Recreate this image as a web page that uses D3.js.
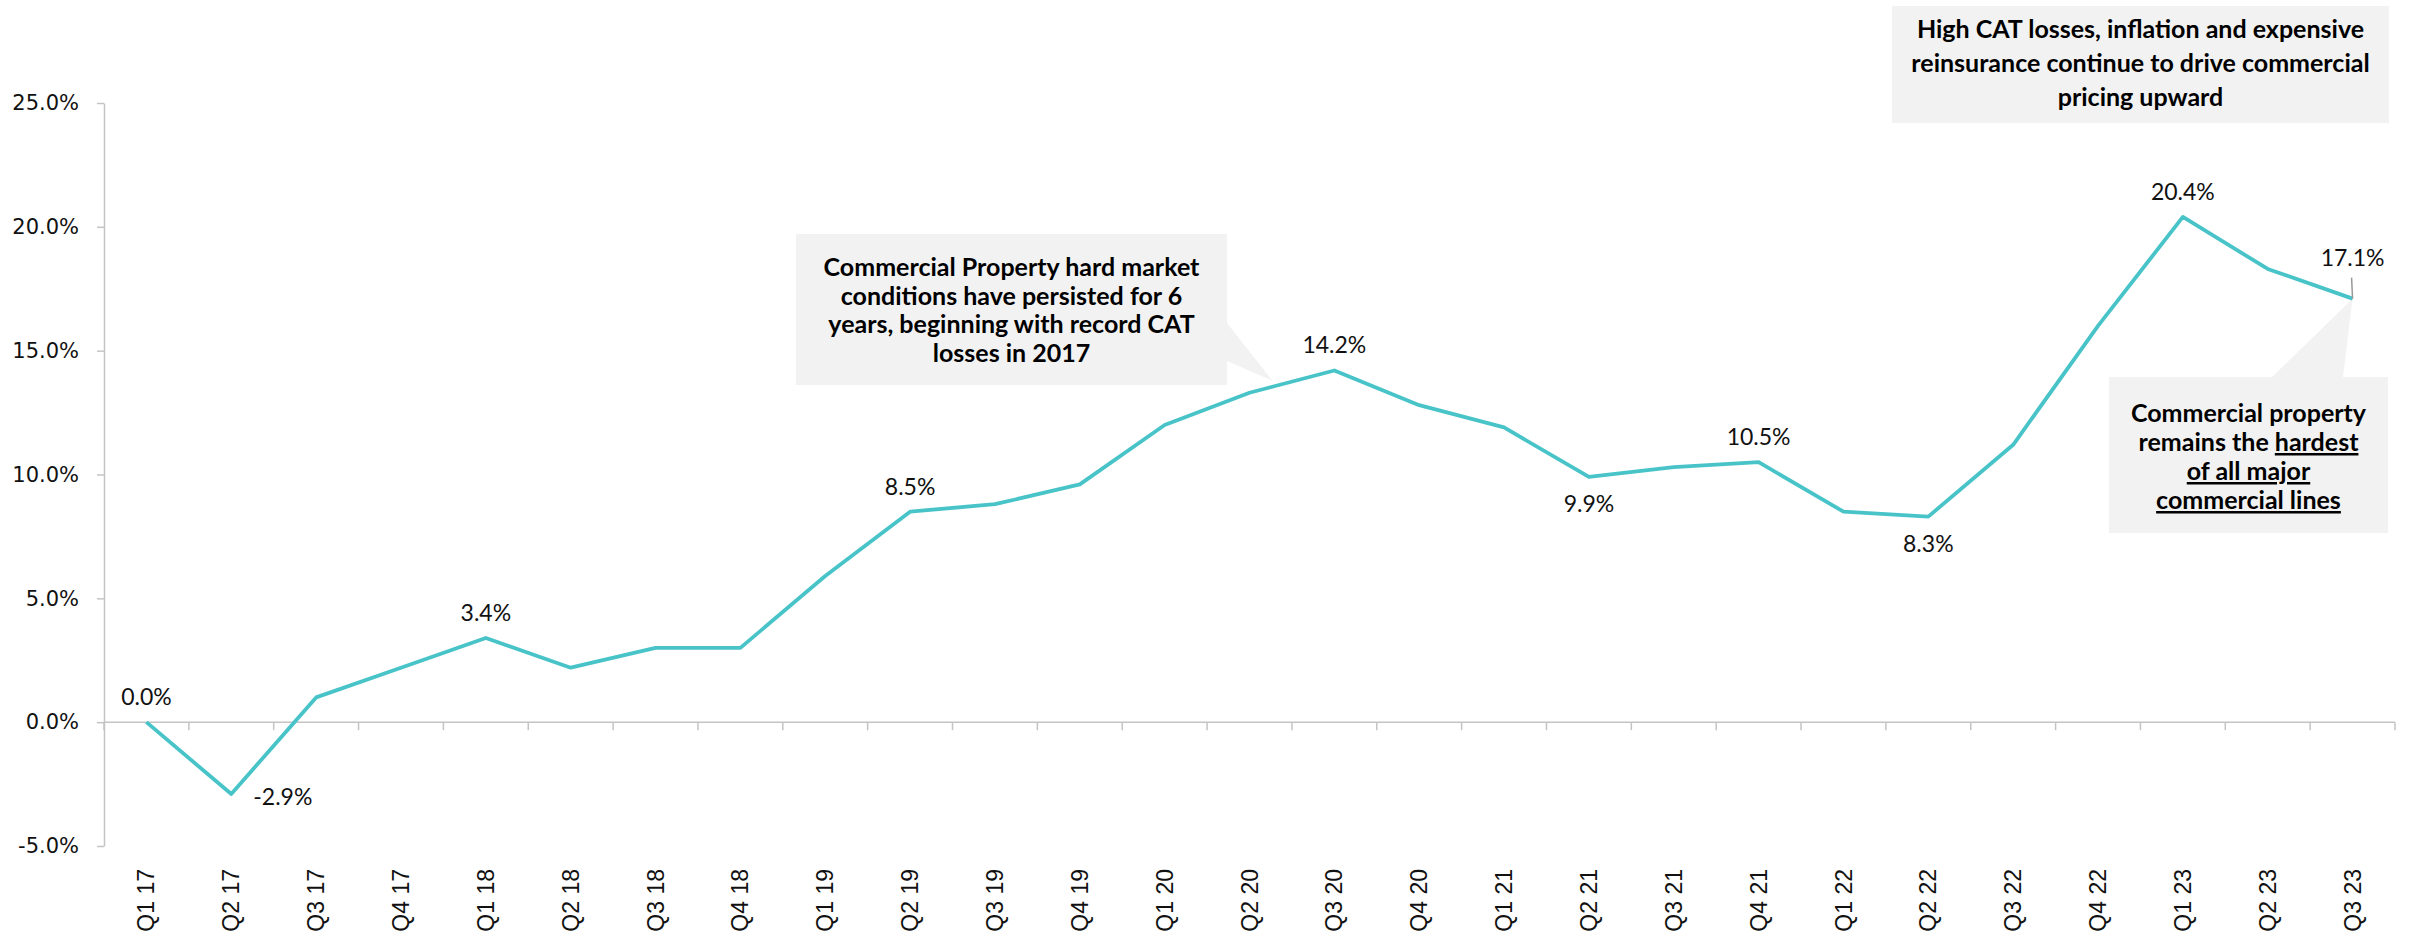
<!DOCTYPE html>
<html>
<head>
<meta charset="utf-8">
<script src="https://cdn.jsdelivr.net/npm/d3@7"></script>
<style>
  html, body { margin: 0; padding: 0; background: #ffffff; }
  svg { display: block; }
</style>
</head>
<body>
<svg id="chart" width="2417" height="936"></svg>
<script>
// Quarterly commercial property rate change, Q1 2017 – Q3 2023 (%)
const quarters = [
  "Q1 17", "Q2 17", "Q3 17", "Q4 17",
  "Q1 18", "Q2 18", "Q3 18", "Q4 18",
  "Q1 19", "Q2 19", "Q3 19", "Q4 19",
  "Q1 20", "Q2 20", "Q3 20", "Q4 20",
  "Q1 21", "Q2 21", "Q3 21", "Q4 21",
  "Q1 22", "Q2 22", "Q3 22", "Q4 22",
  "Q1 23", "Q2 23", "Q3 23"
];
const rateChange = [
  0.0, -2.9, 1.0, 2.2,
  3.4, 2.2, 3.0, 3.0,
  5.9, 8.5, 8.8, 9.6,
  12.0, 13.3, 14.2, 12.8,
  11.9, 9.9, 10.3, 10.5,
  8.5, 8.3, 11.2, 16.0,
  20.4, 18.3, 17.1
];
const yTicks = [-5, 0, 5, 10, 15, 20, 25];

// Quarters whose value is printed next to the line
const labelledQuarters = ["Q1 17", "Q2 17", "Q1 18", "Q2 19", "Q3 20", "Q2 21", "Q4 21", "Q2 22", "Q1 23", "Q3 23"];

// Callout texts
const noteHardMarket = [
  "Commercial Property hard market",
  "conditions have persisted for 6",
  "years, beginning with record CAT",
  "losses in 2017"
];
const noteOutlook = [
  "High CAT losses, inflation and expensive",
  "reinsurance continue to drive commercial",
  "pricing upward"
];
const noteHardest = [
  [{ t: "Commercial property" }],
  [{ t: "remains the " }, { t: "hardest", u: true }],
  [{ t: "of all major", u: true }],
  [{ t: "commercial lines", u: true }]
];

const svg = d3.select("#chart");
const plot = { left: 104, right: 2395, top: 103, bottom: 846 };
const lineColor = "#48c4c9";
const axisColor = "#c4c4c4";
const labelFont = "Lato, 'Noto Sans', sans-serif";

const x = d3.scaleBand().domain(quarters).range([plot.left, plot.right]).padding(0);
const y = d3.scaleLinear().domain([-5, 25]).range([plot.bottom, plot.top]);
const bw = x.bandwidth();
const cx = q => x(q) + bw / 2;
const valueOf = q => rateChange[quarters.indexOf(q)];

// ---- Callout boxes (drawn first so the line sits on top) ----
const calloutFill = "#f2f2f2";
function calloutText(g, lines, centerX, firstY, step, size) {
  const t = g.append("text")
    .attr("text-anchor", "middle")
    .attr("font-family", labelFont)
    .attr("font-weight", 700)
    .attr("font-size", size)
    .attr("fill", "#000");
  lines.forEach((ln, i) => {
    const row = t.append("tspan").attr("x", centerX).attr("y", firstY + i * step);
    (Array.isArray(ln) ? ln : [{ t: ln }]).forEach(part => {
      const s = row.append("tspan").text(part.t);
      if (part.u) s.attr("text-decoration", "underline");
    });
  });
}

// Hard-market callout pointing at the Q2 20 – Q3 20 segment
{
  const g = svg.append("g");
  const bx = 796, by = 234, bwid = 431, bh = 151;
  const x0 = cx("Q2 20"), x1 = cx("Q3 20");
  const y0 = y(valueOf("Q2 20")), y1 = y(valueOf("Q3 20"));
  const t = 0.27;
  const tip = [x0 + (x1 - x0) * t, y0 + (y1 - y0) * t - 6];
  g.append("path")
    .attr("d", `M${bx},${by}H${bx + bwid}V${by + 89}L${tip[0]},${tip[1]}L${bx + bwid},${by + 127}V${by + bh}H${bx}Z`)
    .attr("fill", calloutFill);
  calloutText(g, noteHardMarket, bx + bwid / 2, 276, 28.5, 25);
}

// Outlook box at top right
{
  const g = svg.append("g");
  const bx = 1892, by = 6, bwid = 497, bh = 117;
  g.append("rect").attr("x", bx).attr("y", by).attr("width", bwid).attr("height", bh).attr("fill", calloutFill);
  calloutText(g, noteOutlook, bx + bwid / 2, 38, 34, 25);
}

// "Hardest line" callout pointing at Q3 23
{
  const g = svg.append("g");
  const bx = 2109, by = 377, bwid = 279, bh = 156;
  const tip = [cx("Q3 23"), y(valueOf("Q3 23"))];
  g.append("path")
    .attr("d", `M${bx},${by}H${2272}L${tip[0]},${tip[1]}L${2343},${by}H${bx + bwid}V${by + bh}H${bx}Z`)
    .attr("fill", calloutFill);
  calloutText(g, noteHardest, bx + bwid / 2, 422, 29, 25);
}

// ---- Y axis ----
const yAxis = svg.append("g")
  .attr("transform", `translate(${plot.left},0)`)
  .call(d3.axisLeft(y).tickValues(yTicks).tickSize(7).tickSizeOuter(0).tickPadding(18)
    .tickFormat(d => d.toFixed(1) + "%"));
yAxis.select(".domain").attr("stroke", axisColor).attr("stroke-width", 1.5);
yAxis.selectAll(".tick line").attr("stroke", axisColor).attr("stroke-width", 1.5);
yAxis.selectAll(".tick text")
  .attr("font-family", "'DejaVu Sans', sans-serif")
  .attr("font-size", 21)
  .attr("fill", "#111");

// ---- Zero baseline with category tick marks ----
const base = svg.append("g").attr("transform", `translate(0,${y(0)})`);
base.append("line")
  .attr("x1", plot.left).attr("x2", plot.right)
  .attr("stroke", axisColor).attr("stroke-width", 1.5);
base.selectAll("line.tick")
  .data(d3.range(quarters.length + 1))
  .join("line")
  .attr("class", "tick")
  .attr("x1", i => plot.left + i * bw).attr("x2", i => plot.left + i * bw)
  .attr("y1", 0).attr("y2", 8)
  .attr("stroke", axisColor).attr("stroke-width", 1.5);

// ---- Category labels along the bottom ----
const xAxis = svg.append("g")
  .attr("transform", `translate(0,869)`)
  .call(d3.axisBottom(x).tickSize(0).tickSizeOuter(0));
xAxis.select(".domain").remove();
xAxis.selectAll(".tick text")
  .attr("transform", "rotate(-90)")
  .attr("x", 0).attr("y", 0).attr("dy", "0.35em")
  .attr("text-anchor", "end")
  .attr("font-family", "'Liberation Sans', Arial, sans-serif")
  .attr("font-size", 23)
  .attr("fill", "#111");

// ---- Rate line ----
const line = d3.line()
  .x((d, i) => cx(quarters[i]))
  .y(d => y(d));
svg.append("path")
  .datum(rateChange)
  .attr("d", line)
  .attr("fill", "none")
  .attr("stroke", lineColor)
  .attr("stroke-width", 3.8)
  .attr("stroke-linejoin", "round");

// ---- Value labels ----
const placement = {
  "Q2 17": "right", "Q2 21": "below", "Q2 22": "below", "Q3 23": "leader"
};
const fmt = v => v.toFixed(1) + "%";
const labels = svg.append("g")
  .attr("font-family", labelFont)
  .attr("font-size", 23)
  .attr("fill", "#111");
labelledQuarters.forEach(q => {
  const v = valueOf(q), px = cx(q), py = y(v);
  const where = placement[q] || "above";
  const t = labels.append("text").text(fmt(v));
  if (where === "above") {
    t.attr("x", px).attr("y", py - 17).attr("text-anchor", "middle");
  } else if (where === "below") {
    t.attr("x", px).attr("y", py + 35).attr("text-anchor", "middle");
  } else if (where === "right") {
    t.attr("x", px + 22).attr("y", py + 11).attr("text-anchor", "start");
  } else {
    labels.append("line")
      .attr("x1", px).attr("x2", px - 1)
      .attr("y1", py).attr("y2", py - 21)
      .attr("stroke", "#9a9a9a").attr("stroke-width", 1.5);
    t.attr("x", px).attr("y", py - 33).attr("text-anchor", "middle");
  }
});
</script>
</body>
</html>
